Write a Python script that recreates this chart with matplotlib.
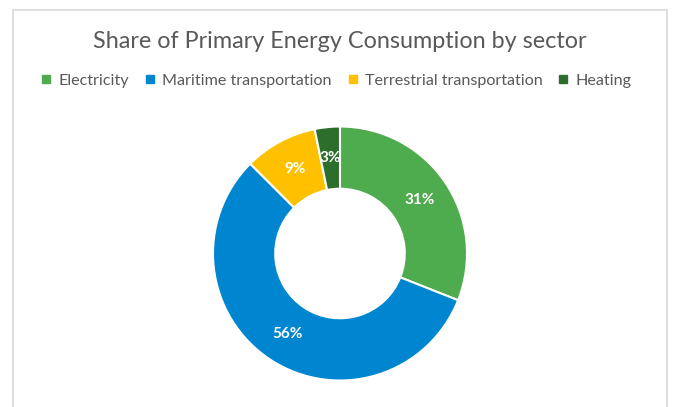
import matplotlib
matplotlib.use("Agg")
import matplotlib.pyplot as plt
from matplotlib.patches import Rectangle
from matplotlib.lines import Line2D
import numpy as np

categories = ["Electricity", "Maritime transportation", "Terrestrial transportation", "Heating"]
values = [31.0, 56.5, 9.3, 3.2]
pct_labels = ["31%", "56%", "9%", "3%"]
colors = ["#4EAB4E", "#0086D1", "#FFC000", "#2D6E2D"]
title = "Share of Primary Energy Consumption by sector"

plt.rcParams['font.family'] = ['Lato', 'DejaVu Sans']
W, H = 674, 407
fig = plt.figure(figsize=(W / 100, H / 100), dpi=100)
fig.patch.set_facecolor("white")

# chart border
fig.patches.append(Rectangle((13 / W, -0.05), (667 - 13) / W, (H - 10) / H + 0.05,
                             transform=fig.transFigure, fill=False,
                             edgecolor="#D9D9D9", linewidth=1.2))

fig.text(340 / W, 1 - 42 / H, title, ha="center", va="center",
         fontsize=16.8, color="#595959")

cx, cy, r = 340, 253.5, 127
ax = fig.add_axes([(cx - r) / W, (H - cy - r) / H, 2 * r / W, 2 * r / H])
wedges, _ = ax.pie(values, colors=colors, startangle=90, counterclock=False,
                   radius=1.0,
                   wedgeprops=dict(width=0.49, edgecolor="white", linewidth=1.5))
mid = 1.0 - 0.49 / 2
total = sum(values)
cum = 0
for v, lab in zip(values, pct_labels):
    ang = np.deg2rad(90 - (cum + v / 2) / total * 360)
    cum += v
    ax.text(mid * np.cos(ang), mid * np.sin(ang), lab, ha="center", va="center",
            color="white", fontsize=11, fontweight="bold")
ax.set_xlim(-1, 1)
ax.set_ylim(-1, 1)
ax.set_aspect("equal")
ax.axis("off")

handles = [Line2D([0], [0], marker="s", linestyle="none", markersize=5.5,
                  markerfacecolor=c, markeredgecolor=c) for c in colors]
leg = fig.legend(handles, categories, loc="center", bbox_to_anchor=(337 / W, 1 - 81 / H),
                 ncol=4, frameon=False, fontsize=11.6, handlelength=0.5,
                 handletextpad=0.5, columnspacing=1.05, labelcolor="#595959")

fig.savefig("out.png", dpi=100)
